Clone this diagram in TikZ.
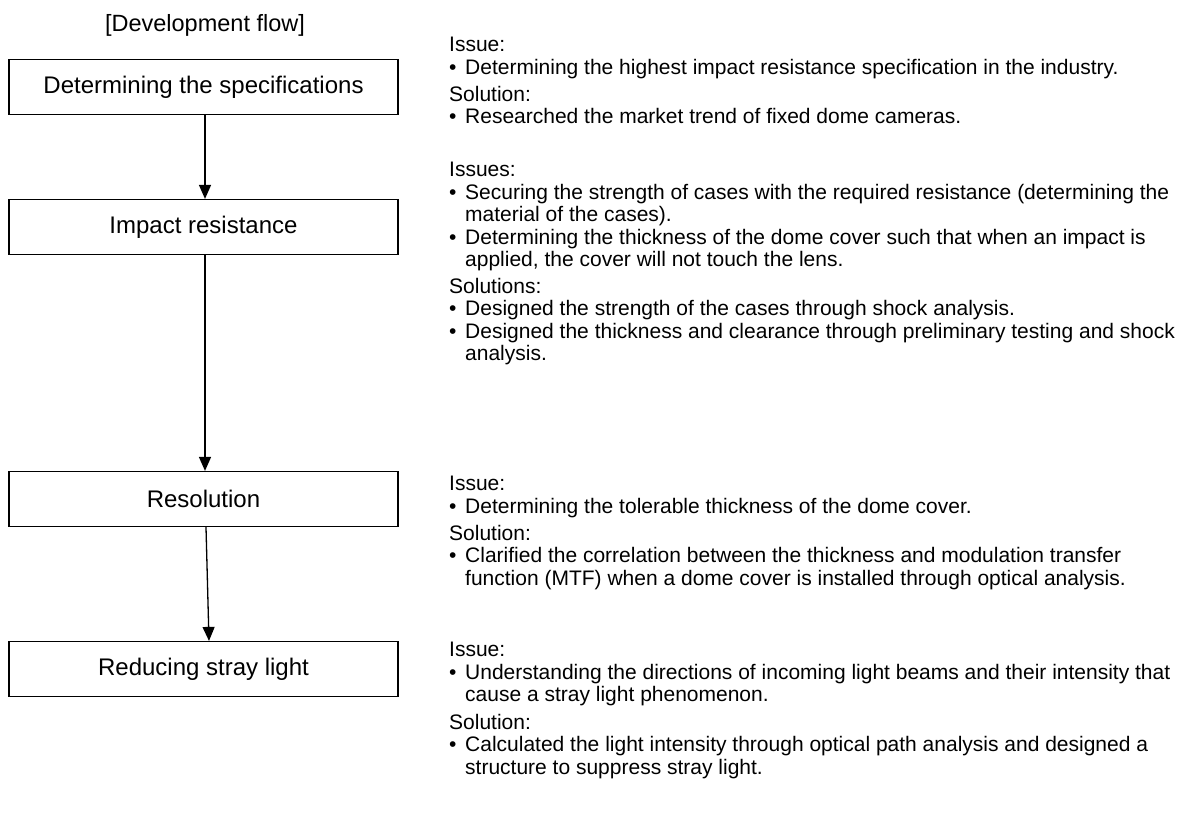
\documentclass[tikz,border=0pt]{standalone}
\usepackage{fontspec}
\setmainfont{Liberation Sans}
\usetikzlibrary{arrows.meta, positioning}
\tikzstyle{stage} = [rectangle, draw, line width=1.2pt, minimum width=389pt, minimum height=55pt, inner sep=0pt, font=\fontsize{24}{28}\selectfont]
\tikzstyle{flow} = [-{Triangle[length=14pt, width=12pt]}, line width=1.3pt]
\tikzstyle{note} = [anchor=north west, align=left, inner sep=0pt, font=\fontsize{21}{22.5}\selectfont]
\newcommand{\bitem}{\makebox[16pt][l]{\textbullet}}
\newcommand{\cont}{\hspace*{16pt}}

\begin{document}
\begin{tikzpicture}[x=1pt, y=-1pt]
  \useasboundingbox (0,0) rectangle (1196,814);
  \node[font=\fontsize{23.5}{28}\selectfont] (title) at (205,25) {[Development flow]};

  % stages
  \node[stage] (spec) at (203.5,87) {Determining the specifications};
  \node[stage] (impact) at (203.5,227) {Impact resistance};
  \node[stage] (res) at (203.5,499) {Resolution};
  \node[stage] (stray) at (203.5,669) {Reducing stray light};

  % flow
  \draw[flow] ([xshift=1.5pt]spec.south) -- ([xshift=1.5pt]impact.north);
  \draw[flow] ([xshift=1.5pt]impact.south) -- ([xshift=1.5pt]res.north);
  \draw[flow] ([xshift=2.5pt]res.south) -- ([xshift=5.5pt]stray.north);

  % specifications
  \node[note] (iss1) at (449,37) {Issue:\\
    \bitem Determining the highest impact resistance specification in the industry.};
  \node[note] (sol1) at (449,86) {Solution:\\
    \bitem Researched the market trend of fixed dome cameras.};

  % impact resistance
  \node[note] (iss2) at (449,162) {Issues:\\
    \bitem Securing the strength of cases with the required resistance (determining the\\
    \cont material of the cases).\\
    \bitem Determining the thickness of the dome cover such that when an impact is\\
    \cont applied, the cover will not touch the lens.};
  \node[note] (sol2) at (449,278) {Solutions:\\
    \bitem Designed the strength of the cases through shock analysis.\\
    \bitem Designed the thickness and clearance through preliminary testing and shock\\
    \cont analysis.};

  % resolution
  \node[note] (iss3) at (449,476) {Issue:\\
    \bitem Determining the tolerable thickness of the dome cover.};
  \node[note] (sol3) at (449,525) {Solution:\\
    \bitem Clarified the correlation between the thickness and modulation transfer\\
    \cont function (MTF) when a dome cover is installed through optical analysis.};

  % stray light
  \node[note] (iss4) at (449,642) {Issue:\\
    \bitem Understanding the directions of incoming light beams and their intensity that\\
    \cont cause a stray light phenomenon.};
  \node[note] (sol4) at (449,714) {Solution:\\
    \bitem Calculated the light intensity through optical path analysis and designed a\\
    \cont structure to suppress stray light.};
\end{tikzpicture}
\end{document}
